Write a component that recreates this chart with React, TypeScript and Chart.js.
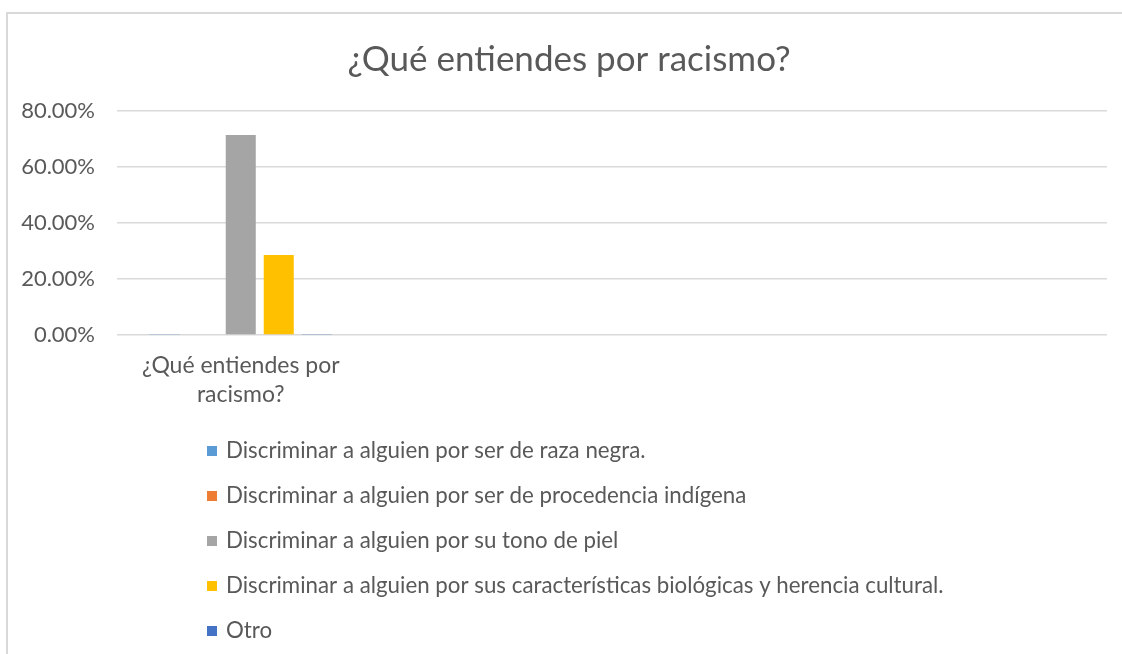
import React, { useEffect, useRef } from 'react';
import { Chart, registerables } from 'chart.js';

Chart.register(...registerables);

const titleText = '¿Qué entiendes por racismo?';
const categories: (string | string[])[] = [['¿Qué entiendes por', 'racismo?'], '', '', ''];
const seriesNames = [
  'Discriminar a alguien por ser de raza negra.',
  'Discriminar a alguien por ser de procedencia indígena',
  'Discriminar a alguien por su tono de piel',
  'Discriminar a alguien por sus características biológicas y herencia cultural.',
  'Otro',
];
const seriesColors = ['#5B9BD5', '#ED7D31', '#A5A5A5', '#FFC000', '#4472C4'];
const razaNegra = [0, null, null, null];
const indigena = [null, null, null, null];
const tonoPiel = [71.43, null, null, null];
const biologicas = [28.57, null, null, null];
const otro = [0, null, null, null];
const seriesValues = [razaNegra, indigena, tonoPiel, biologicas, otro];
const yTicks = [0, 20, 40, 60, 80];

const FONT = 'Lato, "Open Sans", sans-serif';
const TEXT = '#595959';
const GRID = '#d9d9d9';

const titleAndLegendPlugin = {
  id: 'titleAndLegend',
  afterDraw(chart: any) {
    const ctx = chart.ctx;
    const area = chart.chartArea;
    ctx.save();
    ctx.font = `35px ${FONT}`;
    ctx.textBaseline = 'middle';
    ctx.textAlign = 'center';
    ctx.fillStyle = TEXT;
    ctx.fillText(titleText, 569, area.top - 51);

    ctx.font = `22.3px ${FONT}`;
    ctx.textAlign = 'left';
    chart.data.datasets.forEach((ds: any, i: number) => {
      const y = area.bottom + 116 + i * 45;
      ctx.fillStyle = ds.backgroundColor;
      ctx.fillRect(207, y - 5, 10, 10);
      ctx.fillStyle = TEXT;
      ctx.fillText(ds.label, 226, y);
    });
    ctx.restore();
  },
};

export default function App() {
  const ref = useRef<HTMLCanvasElement>(null);
  useEffect(() => {
    if (!ref.current) return;
    const chart = new Chart(ref.current, {
      type: 'bar',
      data: {
        labels: categories,
        datasets: seriesNames.map((name, i) => ({
          label: name,
          data: seriesValues[i],
          backgroundColor: seriesColors[i],
          borderWidth: 0,
          minBarLength: seriesValues[i][0] === 0 ? 1 : 0,
          categoryPercentage: 0.768,
          barPercentage: 0.79,
        })),
      },
      options: {
        animation: false,
        responsive: false,
        maintainAspectRatio: false,
        layout: { padding: { left: 0, right: 15, top: 111, bottom: 239 } },
        plugins: {
          legend: { display: false },
          tooltip: { enabled: false },
          title: { display: false },
        },
        scales: {
          x: {
            grid: { display: false, drawTicks: false },
            border: { display: false },
            ticks: {
              color: TEXT,
              font: { family: FONT, size: 23, lineHeight: 1.22 },
              maxRotation: 0,
              autoSkip: false,
              padding: 17,
            },
            afterFit: (s: any) => { s.height = 80; },
          },
          y: {
            min: 0,
            max: 80,
            afterBuildTicks: (s: any) => { s.ticks = yTicks.map((v) => ({ value: v })); },
            grid: { color: GRID, lineWidth: 1.5, drawTicks: false },
            border: { display: false },
            ticks: {
              color: TEXT,
              font: { family: FONT, size: 22 },
              padding: 22,
              callback: (v: any) => Number(v).toFixed(2) + '%',
            },
            afterFit: (s: any) => { s.width = 117; },
          },
        },
      },
      plugins: [titleAndLegendPlugin],
    });
    return () => chart.destroy();
  }, []);

  return (
    <div style={{ position: 'fixed', left: 0, top: 0, width: 1122, height: 654, background: '#fff', overflow: 'hidden' }}>
      <div style={{ position: 'absolute', left: 6, top: 12, width: 1130, height: 660, border: '2px solid #d9d9d9', boxSizing: 'border-box' }} />
      <canvas ref={ref} width={1122} height={654} style={{ position: 'absolute', left: 0, top: 0, display: 'block' }} />
    </div>
  );
}
